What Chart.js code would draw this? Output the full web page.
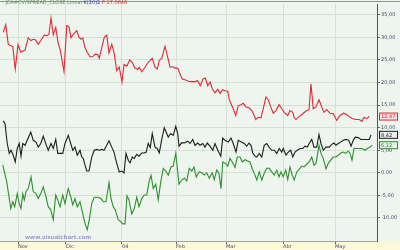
<!DOCTYPE html>
<html>
<head>
<meta charset="utf-8">
<script src="https://cdn.jsdelivr.net/npm/chart.js@4"></script>
<style>
  html, body { margin: 0; padding: 0; background: #eef5ee; }
  canvas { display: block; }
</style>
</head>
<body>
<canvas id="grafico" width="400" height="250"></canvas>
<script>
// ===== Datos (sesión, valor) =====
const monthLabels = ['Nov', 'Dic', '04', 'Feb', 'Mar', 'Abr', 'May'];
const monthSessions = [7.2, 26.4, 48.8, 70.4, 90.4, 113.2, 134.0];
const yTickValues = [-10, -5, 0, 5, 10, 15, 20, 25, 30, 35];

const redLine = [[1.3,31.1],[2.3,32.8],[3.3,28.5],[4.0,28.2],[5.1,28.0],[6.1,23.0],[7.2,28.4],[8.3,26.7],[10.0,27.2],[11.3,29.9],[12.4,29.3],[13.3,29.6],[14.1,29.5],[15.3,28.5],[16.3,29.3],[17.7,30.5],[18.7,30.4],[19.6,30.7],[20.4,34.3],[21.3,30.6],[22.3,32.2],[23.2,28.9],[24.1,27.2],[25.6,22.5],[26.7,32.6],[27.6,32.4],[28.4,29.9],[29.3,30.7],[30.7,31.5],[31.6,30.0],[32.4,29.6],[33.1,29.9],[34.0,27.7],[34.9,26.7],[36.0,25.7],[37.1,25.7],[38.0,26.3],[39.1,26.2],[39.7,25.4],[40.9,28.2],[41.7,30.0],[42.7,30.5],[43.6,26.5],[44.7,28.5],[45.6,26.7],[46.7,22.6],[47.7,23.4],[48.8,20.1],[49.6,24.0],[50.7,23.6],[51.9,25.0],[52.9,24.5],[54.0,23.2],[55.1,22.9],[55.7,23.4],[56.7,22.4],[58.0,23.4],[59.3,24.5],[60.9,25.4],[62.0,23.4],[62.9,23.0],[63.7,24.9],[64.7,25.4],[66.0,28.0],[66.9,26.0],[68.0,23.4],[69.1,23.5],[70.0,23.2],[71.1,23.2],[72.0,21.9],[72.9,20.8],[74.0,20.6],[75.3,20.3],[76.7,20.2],[78.0,20.2],[79.1,20.4],[80.1,19.3],[81.2,20.8],[82.1,21.0],[83.1,19.3],[84.1,20.1],[84.9,18.6],[86.0,17.7],[87.1,18.5],[88.0,17.6],[89.1,18.4],[90.0,18.2],[91.1,18.1],[91.7,16.2],[92.9,14.7],[94.3,12.7],[95.3,14.9],[96.4,15.1],[97.3,15.4],[98.4,14.6],[99.6,14.4],[100.7,13.8],[101.1,13.4],[102.3,11.8],[103.3,12.3],[104.4,12.2],[105.3,14.2],[106.4,16.8],[107.3,16.2],[108.3,14.6],[109.3,13.2],[110.4,13.8],[111.6,15.1],[112.7,14.2],[113.7,13.4],[115.1,12.7],[116.0,13.8],[117.1,13.4],[117.7,12.2],[118.4,11.8],[119.7,12.5],[121.1,13.1],[122.4,13.7],[123.6,14.0],[124.4,19.7],[125.3,14.2],[126.4,14.6],[127.6,16.2],[128.7,14.6],[129.6,13.4],[130.7,14.0],[132.0,13.2],[133.3,13.1],[134.7,11.6],[135.7,12.5],[137.3,13.2],[138.7,12.9],[140.0,12.3],[141.1,12.0],[142.4,11.8],[143.7,11.8],[144.8,11.4],[145.6,12.3],[146.7,12.0],[147.7,12.47]];

const blackLine = [[1.3,11.5],[2.0,10.9],[2.9,6.5],[3.7,4.3],[4.4,5.0],[5.3,3.9],[6.1,2.4],[6.9,5.4],[7.7,6.5],[8.4,3.7],[9.1,6.5],[10.0,6.1],[10.9,7.2],[12.3,9.0],[13.3,7.2],[14.4,6.8],[15.3,5.7],[16.3,6.5],[17.3,8.1],[18.4,6.3],[19.3,5.0],[20.4,6.5],[21.3,5.4],[22.3,7.4],[23.1,4.3],[24.0,4.3],[25.1,4.3],[26.0,6.5],[27.3,8.3],[28.3,6.5],[29.1,5.0],[30.0,5.7],[30.9,3.9],[32.0,5.0],[32.7,3.5],[33.3,3.2],[34.0,1.7],[34.7,0.4],[35.6,0.4],[36.7,3.5],[37.7,5.0],[38.7,5.2],[39.7,5.0],[40.7,5.2],[41.6,5.0],[42.7,6.1],[43.6,7.1],[44.7,5.7],[45.6,4.6],[46.7,2.1],[47.7,0.2],[48.7,0.4],[49.6,0.0],[50.4,4.3],[51.3,2.8],[52.0,2.2],[52.9,3.5],[53.7,3.2],[54.7,4.1],[55.6,3.7],[56.7,4.4],[57.7,4.4],[58.5,4.6],[59.3,6.5],[60.1,5.6],[60.9,8.7],[62.0,5.7],[62.9,5.4],[63.7,4.4],[64.7,7.4],[65.7,10.0],[66.5,9.0],[67.3,7.9],[68.3,8.7],[69.3,8.3],[70.3,10.3],[71.1,8.7],[71.6,5.9],[72.7,6.7],[73.7,6.6],[75.1,7.0],[76.0,6.5],[77.1,7.4],[78.0,6.1],[79.1,6.6],[80.0,6.1],[81.1,6.5],[82.0,5.7],[82.9,6.6],[84.0,5.9],[85.1,5.0],[86.0,6.5],[87.1,5.0],[88.3,3.7],[89.1,7.7],[90.0,7.2],[91.3,6.8],[92.4,7.7],[93.3,6.5],[94.4,4.6],[95.3,7.2],[96.7,6.8],[97.7,6.5],[98.7,5.9],[99.6,6.6],[100.4,6.1],[101.1,4.4],[102.0,3.7],[102.7,3.5],[103.7,4.3],[104.7,3.5],[105.7,6.1],[106.7,6.5],[107.6,5.7],[108.7,5.0],[109.7,5.0],[110.7,4.3],[111.7,5.4],[112.7,4.6],[113.3,5.4],[114.4,3.9],[115.3,4.6],[116.3,5.0],[117.1,3.5],[118.0,4.6],[118.9,5.0],[120.0,5.4],[121.1,5.4],[122.0,5.9],[122.9,5.7],[123.7,6.5],[124.7,7.4],[125.6,5.7],[126.7,5.7],[127.6,8.5],[128.4,6.5],[129.3,5.0],[130.4,5.7],[131.7,5.7],[132.7,6.3],[133.6,6.6],[134.4,6.1],[135.3,6.5],[136.3,6.8],[137.3,7.2],[138.4,7.4],[139.5,7.2],[140.4,5.9],[141.3,7.2],[142.1,7.9],[143.3,7.8],[144.4,7.4],[145.3,7.4],[146.7,7.4],[147.7,7.4],[148.4,8.42]];

const greenLine = [[1.1,1.7],[1.6,0.6],[2.7,-2.0],[3.6,-5.3],[4.3,-7.9],[5.1,-6.4],[5.9,-7.5],[6.9,-4.6],[7.7,-6.8],[8.4,-7.9],[9.1,-4.6],[9.7,-6.0],[10.4,-4.2],[11.3,-3.5],[12.4,-0.9],[13.3,-4.2],[14.4,-4.6],[15.3,-5.7],[16.3,-4.6],[17.3,-3.1],[18.4,-5.3],[19.3,-7.5],[20.3,-8.2],[21.3,-10.4],[22.3,-4.9],[23.1,-6.0],[24.0,-7.5],[25.1,-4.9],[26.0,-6.8],[27.3,-3.5],[28.3,-5.3],[29.1,-7.1],[30.0,-5.7],[30.9,-7.5],[32.0,-6.4],[32.9,-8.6],[34.0,-11.2],[34.9,-12.6],[35.7,-10.4],[36.7,-6.8],[37.7,-5.4],[39.1,-5.4],[40.4,-5.7],[41.3,-6.4],[42.4,-6.4],[43.6,-2.2],[44.4,-5.7],[45.3,-7.5],[46.1,-8.2],[47.3,-10.4],[48.3,-10.8],[49.1,-11.3],[50.0,-11.3],[50.8,-5.1],[51.6,-6.0],[52.7,-9.1],[53.7,-7.9],[54.7,-5.4],[55.6,-7.5],[56.7,-5.7],[57.7,-4.9],[58.7,-4.9],[59.6,-2.0],[60.4,-0.5],[61.3,-3.5],[62.3,-2.5],[63.3,-6.0],[64.3,-2.0],[65.3,1.0],[66.3,0.4],[67.3,-0.5],[68.4,1.3],[69.3,1.5],[70.3,4.3],[71.1,0.2],[71.6,-2.5],[72.7,-1.6],[73.7,-1.2],[74.7,-1.8],[75.7,1.0],[76.7,0.4],[77.6,1.3],[78.5,-0.9],[79.6,0.2],[80.7,0.0],[81.7,-0.5],[82.7,0.0],[83.7,-1.2],[84.9,0.0],[85.7,-1.5],[86.7,0.6],[87.6,-0.1],[88.4,-3.5],[89.1,2.4],[90.0,2.2],[91.1,1.5],[92.0,3.2],[92.9,2.4],[94.0,1.2],[94.9,3.5],[96.0,3.5],[96.9,2.4],[98.0,2.9],[99.1,2.6],[100.0,2.4],[100.9,0.9],[102.0,-0.5],[102.7,-1.6],[103.7,0.2],[104.7,-1.6],[105.7,-0.1],[106.7,1.0],[107.7,1.0],[108.7,0.2],[109.7,-0.5],[110.7,0.6],[111.6,-0.9],[112.4,0.2],[113.3,-0.9],[114.3,0.6],[115.1,-1.5],[116.0,1.3],[116.9,-0.5],[117.7,-1.6],[118.7,0.2],[119.6,0.7],[120.7,1.5],[121.6,1.3],[122.7,1.9],[123.7,2.4],[124.7,3.5],[125.6,1.7],[126.4,2.1],[127.6,6.1],[128.4,4.3],[129.3,3.2],[130.4,0.9],[131.3,2.1],[132.3,2.8],[133.3,3.5],[134.4,3.5],[135.3,3.9],[136.3,4.4],[137.3,4.6],[138.3,4.3],[139.2,4.8],[140.0,4.4],[140.8,2.8],[141.6,5.4],[142.7,5.4],[143.7,5.4],[144.8,5.4],[146.0,5.0],[146.9,5.4],[148.0,5.7],[148.9,6.12]];

const fmt = v => v.toFixed(2).replace('.', ',');
const toPts = arr => arr.map(([x, y]) => ({ x, y }));

const series = [
    { data: redLine, color: '#dd2a35', fill: '#fbe3e3' },
    { data: blackLine, color: '#1c1c1c', fill: '#eeeeee' },
    { data: greenLine, color: '#2f8f2f', fill: '#e3f3e3' }
];

// ===== Adornos: fondo, franja de fechas, título, marca de agua, etiquetas =====
const adornos = {
    id: 'adornos',
    beforeDraw(chart) {
        const { ctx, chartArea: a, width, height } = chart;
        ctx.save();
        ctx.fillStyle = '#eef5ee';
        ctx.fillRect(0, 0, width, height);
        ctx.fillStyle = '#fcf9d9';
        ctx.fillRect(0, a.bottom, width, height - a.bottom);
        ctx.restore();
    },
    afterDraw(chart) {
        const { ctx, chartArea: a, width, scales } = chart;
        ctx.save();
        // borde superior
        ctx.strokeStyle = '#8a9a8a';
        ctx.lineWidth = 1;
        ctx.beginPath(); ctx.moveTo(0, 1.5); ctx.lineTo(width, 1.5); ctx.stroke();

        // título
        ctx.font = '5px "DejaVu Sans"';
        ctx.textBaseline = 'top';
        let x = 2;
        [['- JCA#CV/SPREAD_CLOSE Lineal ', '#5d8a5d'], ['K(20)2', '#4040a0'], [' P 17,0646', '#d03030']].forEach(([t, c]) => {
            ctx.fillStyle = c;
            ctx.fillText(t, x, 0);
            x += ctx.measureText(t).width;
        });

        // marca de agua
        ctx.font = 'bold 5.5px "DejaVu Sans"';
        ctx.fillStyle = '#9a9ad6';
        ctx.textBaseline = 'alphabetic';
        ctx.fillText('www.visualchart.com', 25, a.bottom - 2);

        // etiquetas de último valor
        ctx.font = '5px "DejaVu Sans"';
        ctx.textBaseline = 'middle';
        series.forEach(s => {
            const last = s.data[s.data.length - 1][1];
            const py = scales.y.getPixelForValue(last);
            ctx.fillStyle = s.fill;
            ctx.fillRect(a.right + 2.5, py - 3.5, 18, 7);
            ctx.strokeStyle = s.color;
            ctx.strokeRect(a.right + 2.5, py - 3.5, 18, 7);
            ctx.fillStyle = s.color;
            ctx.fillText(fmt(last), a.right + 4, py + 0.5);
        });
        ctx.restore();
    }
};

new Chart(document.getElementById('grafico').getContext('2d'), {
    type: 'line',
    data: {
        datasets: series.map(s => ({
            data: toPts(s.data),
            borderColor: s.color,
            borderWidth: 1.1,
            pointRadius: 0,
            tension: 0
        }))
    },
    options: {
        responsive: false,
        animation: false,
        layout: { padding: { top: 3, left: 0, right: 0, bottom: 0 } },
        plugins: { legend: { display: false }, tooltip: { enabled: false } },
        scales: {
            x: {
                type: 'linear',
                min: 0,
                max: 150.8,
                afterBuildTicks: sc => { sc.ticks = monthSessions.map(v => ({ value: v })); },
                ticks: {
                    callback: v => monthLabels[monthSessions.indexOf(v)],
                    align: 'start',
                    padding: 0,
                    maxRotation: 0,
                    autoSkip: false,
                    color: '#44446a',
                    font: { size: 5, family: 'DejaVu Sans' }
                },
                grid: { color: '#d3e2d3', tickLength: 3, tickColor: '#666' },
                border: { color: '#9aa79a' },
                afterFit: sc => { sc.height = 9; }
            },
            y: {
                position: 'right',
                min: -15.1,
                max: 37.4,
                afterBuildTicks: sc => { sc.ticks = yTickValues.map(v => ({ value: v })); },
                ticks: {
                    callback: v => fmt(v),
                    padding: 1,
                    color: '#44446a',
                    font: { size: 5, family: 'DejaVu Sans' }
                },
                grid: { color: '#d3e2d3', tickLength: 3, tickColor: '#666' },
                border: { color: '#555' },
                afterFit: sc => { sc.width = 23; }
            }
        }
    },
    plugins: [adornos]
});
</script>
</body>
</html>
